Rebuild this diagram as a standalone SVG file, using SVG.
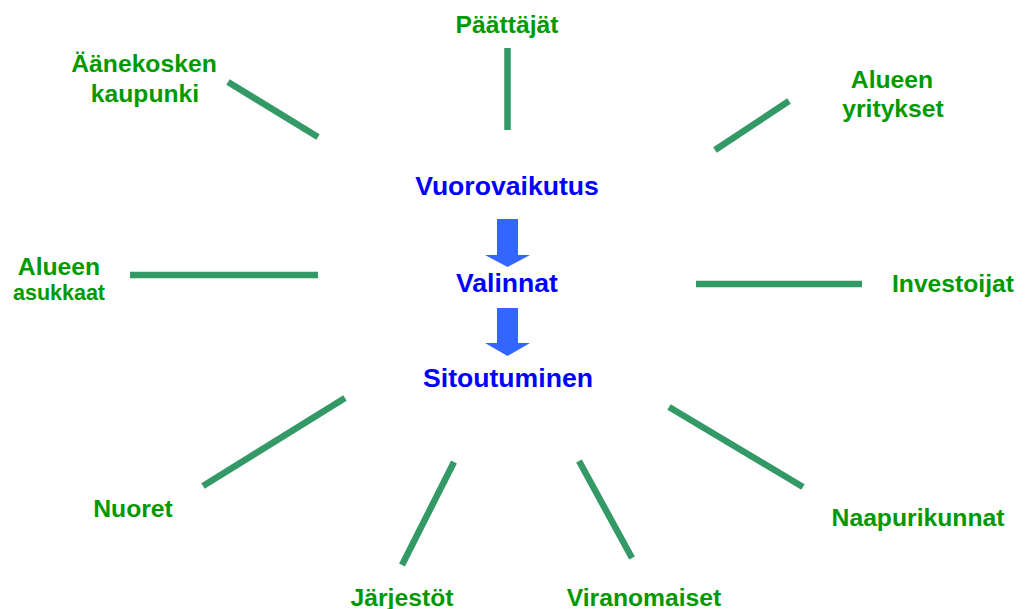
<svg xmlns="http://www.w3.org/2000/svg" width="1026" height="609" viewBox="0 0 1026 609">
<style>
.g{font-family:"Liberation Sans",Arial,sans-serif;font-weight:bold;fill:#009900;text-anchor:middle;font-size:24.7px}
.s{font-size:21.5px}
.b{font-family:"Liberation Sans",Arial,sans-serif;font-weight:bold;fill:#0000FF;text-anchor:middle;font-size:26.6px}
.c line{stroke:#339966;stroke-width:6.5}
.a{fill:#3366FF}
</style>
<rect width="1026" height="609" fill="#fff"/>
<g class="c" id="connectors">
<line x1="507.5" y1="48" x2="507.5" y2="130"/>
<line x1="228" y1="82" x2="318" y2="137"/>
<line x1="789" y1="101" x2="715" y2="150"/>
<line x1="130" y1="275" x2="318" y2="275"/>
<line x1="696" y1="284" x2="862" y2="284"/>
<line x1="345" y1="398" x2="203" y2="486"/>
<line x1="454" y1="462" x2="402" y2="565"/>
<line x1="579" y1="461" x2="632" y2="558"/>
<line x1="669" y1="407" x2="803" y2="487"/>
</g>
<g id="center">
<text class="b" x="507" y="195">Vuorovaikutus</text>
<polygon class="a" points="497,219 518,219 518,255 530,255 507.5,267 485,255 497,255"/>
<text class="b" x="507" y="292">Valinnat</text>
<polygon class="a" points="497,308 518,308 518,343 530,343 507.5,356 485,343 497,343"/>
<text class="b" x="508" y="387">Sitoutuminen</text>
</g>
<g id="paattajat"><text class="g" x="507" y="33">Päättäjät</text></g>
<g id="aanekosken"><text class="g" x="144" y="72">Äänekosken</text><text class="g" x="145" y="102">kaupunki</text></g>
<g id="yritykset"><text class="g" x="892" y="88">Alueen</text><text class="g" x="893" y="117">yritykset</text></g>
<g id="asukkaat"><text class="g" x="59" y="275">Alueen</text><text class="g s" x="59" y="300">asukkaat</text></g>
<g id="investoijat"><text class="g" x="953" y="292">Investoijat</text></g>
<g id="nuoret"><text class="g" x="133" y="517">Nuoret</text></g>
<g id="jarjestot"><text class="g" x="402" y="606">Järjestöt</text></g>
<g id="viranomaiset"><text class="g" x="644" y="606">Viranomaiset</text></g>
<g id="naapurikunnat"><text class="g" x="918" y="526">Naapurikunnat</text></g>
</svg>
